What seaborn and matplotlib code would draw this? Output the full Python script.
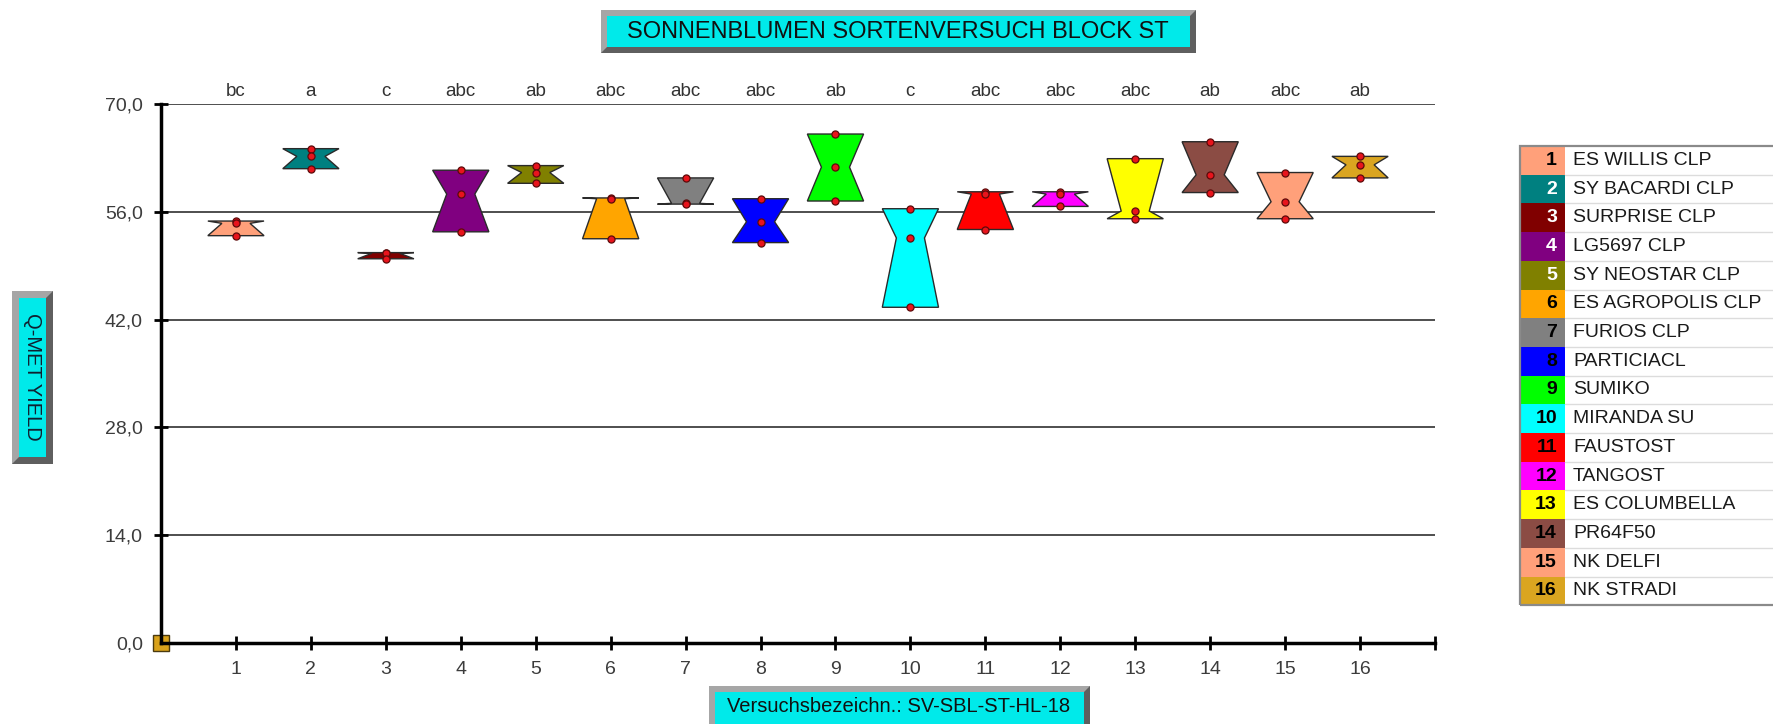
import numpy as np
import pandas as pd
import matplotlib
matplotlib.use("Agg")
import matplotlib.pyplot as plt
from matplotlib.patches import Polygon, Rectangle
from matplotlib.lines import Line2D
import seaborn as sns

# =============================
# DATA
# =============================
sorte_nr = [1, 2, 3, 4, 5, 6, 7, 8, 9, 10, 11, 12, 13, 14, 15, 16]
sorte_name = ["ES WILLIS CLP", "SY BACARDI CLP", "SURPRISE CLP", "LG5697 CLP",
              "SY NEOSTAR CLP", "ES AGROPOLIS CLP", "FURIOS CLP", "PARTICIACL",
              "SUMIKO", "MIRANDA SU", "FAUSTOST", "TANGOST", "ES COLUMBELLA",
              "PR64F50", "NK DELFI", "NK STRADI"]
letters = ["bc", "a", "c", "abc", "ab", "abc", "abc", "abc",
           "ab", "c", "abc", "abc", "abc", "ab", "abc", "ab"]

# three replicates per variety (Q-MET YIELD)
rep_a = [54.8, 64.2, 50.7, 61.4, 62.0, 57.8, 60.4, 57.7, 66.1, 56.4, 58.6, 58.6, 62.9, 65.1, 61.1, 63.2]
rep_b = [54.5, 63.2, 50.6, 58.3, 61.1, 57.7, 57.1, 54.7, 61.8, 52.6, 58.3, 58.3, 56.1, 60.8, 57.3, 62.1]
rep_c = [52.9, 61.6, 49.9, 53.4, 59.7, 52.5, 57.0, 52.0, 57.4, 43.6, 53.7, 56.7, 55.1, 58.5, 55.1, 60.4]

y_ticks = [0, 14, 28, 42, 56, 70]

# =============================
# STYLE
# =============================
box_colors = ["#ffa07a", "#008080", "#800000", "#800080", "#808000", "#ffa500",
              "#808080", "#0000ff", "#00ff00", "#00ffff", "#ff0000", "#ff00ff",
              "#ffff00", "#8b4c44", "#ffa07a", "#daa520"]
num_colors = ["black", "white", "white", "white", "white", "black", "black", "black",
              "black", "black", "black", "black", "black", "black", "black", "black"]
CYAN = "#00eaea"

W, H = 1773, 724
X_MAX = 17

sns.set_style("white")
plt.rcParams["font.family"] = ["Liberation Sans", "DejaVu Sans"]

rows = []
for i, n in enumerate(sorte_nr):
    for v in (rep_a[i], rep_b[i], rep_c[i]):
        rows.append((n, sorte_name[i], v))
df = pd.DataFrame(rows, columns=["nr", "sorte", "yield"])

# box = min..max of the replicates, waist (notch) at the median
stats = []
for n, grp in df.groupby("nr"):
    v = grp["yield"].to_numpy()
    lo, med, hi = v.min(), np.median(v), v.max()
    stats.append(dict(med=med, q1=lo, q3=hi, whislo=lo, whishi=hi,
                      cilo=lo, cihi=hi, fliers=[], mean=v.mean()))

fig = plt.figure(figsize=(W / 100, H / 100), dpi=100)
ax = fig.add_axes([161 / W, 1 - 643 / H, (1435 - 161) / W, (643 - 104) / H])


def fig_xy(x, y):
    return (x / W, 1 - y / H)


# =============================
# BOXES + POINTS
# =============================
bp = ax.bxp(stats, positions=sorte_nr, widths=0.75, shownotches=True,
            patch_artist=True, showcaps=False, showfliers=False,
            boxprops=dict(edgecolor="#2a2a2a", linewidth=1.0),
            medianprops=dict(linewidth=0), whiskerprops=dict(linewidth=0),
            manage_ticks=False, zorder=3)
for patch, c in zip(bp["boxes"], box_colors):
    patch.set_facecolor(c)

sns.scatterplot(data=df, x="nr", y="yield", color="#e8141c", edgecolor="#5c0a0a",
                linewidth=0.9, s=26, zorder=5, legend=False, ax=ax)

ax.set_xlim(0, X_MAX)
ax.set_ylim(y_ticks[0], y_ticks[-1])
ax.set_xlabel("")
ax.set_ylabel("")

ax.set_xticks(sorte_nr + [X_MAX])
ax.set_xticklabels([str(n) for n in sorte_nr] + [""])
ax.set_yticks(y_ticks)
ax.set_yticklabels([f"{t:.1f}".replace(".", ",") for t in y_ticks])

ax.tick_params(axis="both", direction="inout", length=10, width=2, color="black",
               labelcolor="#3c3c3c", labelsize=14, pad=8,
               bottom=True, left=True, top=False, right=False)

ax.set_axisbelow(True)
ax.yaxis.grid(True, color="#1e1e1e", linewidth=1.1)
ax.xaxis.grid(False)
for s in ["top", "right"]:
    ax.spines[s].set_visible(False)
for s in ["left", "bottom"]:
    ax.spines[s].set_linewidth(2.5)
    ax.spines[s].set_color("black")

# origin marker
ax.plot(ax.get_xlim()[0], ax.get_ylim()[0], marker="s", ms=11, mfc="#d9a21b",
        mec="#4a3a10", mew=1, clip_on=False, zorder=2)

# significance letters
for n, letter in zip(sorte_nr, letters):
    ax.annotate(letter, xy=(n, y_ticks[-1]), xytext=(0, 3), textcoords="offset points",
                ha="center", va="bottom", fontsize=13.5, color="#333333",
                annotation_clip=False)


# =============================
# BEVEL LABEL BOXES
# =============================
def bevel_box(x0, y0, x1, y1, b):
    fig.add_artist(Polygon([fig_xy(x0, y0), fig_xy(x1, y0), fig_xy(x1, y1), fig_xy(x0, y1)],
                           closed=True, transform=fig.transFigure,
                           facecolor="#5f5f5f", edgecolor="none"))
    fig.add_artist(Polygon([fig_xy(x0, y0), fig_xy(x1, y0), fig_xy(x1 - b, y0 + b),
                            fig_xy(x0 + b, y0 + b), fig_xy(x0 + b, y1 - b), fig_xy(x0, y1)],
                           closed=True, transform=fig.transFigure,
                           facecolor="#a6a6a6", edgecolor="none"))
    fig.add_artist(Polygon([fig_xy(x0 + b, y0 + b), fig_xy(x1 - b, y0 + b),
                            fig_xy(x1 - b, y1 - b), fig_xy(x0 + b, y1 - b)],
                           closed=True, transform=fig.transFigure,
                           facecolor=CYAN, edgecolor="none"))


bevel_box(601, 10, 1196, 53, 6)
fig.text(898 / W, 1 - 32 / H, "SONNENBLUMEN SORTENVERSUCH BLOCK ST",
         ha="center", va="center", fontsize=17, color="#111111")

bevel_box(12, 291, 53, 464, 7)
fig.text(32 / W, 1 - 377 / H, "Q-MET YIELD", rotation=270,
         ha="center", va="center", fontsize=14.5, color="#102030")

bevel_box(709, 686, 1090, 736, 6)
fig.text(899 / W, 1 - 707 / H, "Versuchsbezeichn.: SV-SBL-ST-HL-18",
         ha="center", va="center", fontsize=14.5, color="#111111")

# =============================
# LEGEND TABLE
# =============================
top, row_h = 146, 28.7
x_left, x_sw = 1520, 1565
fig.add_artist(Rectangle(fig_xy(x_left, top + 16 * row_h), (W + 10 - x_left) / W,
                         16 * row_h / H, transform=fig.transFigure,
                         facecolor="white", edgecolor="none"))
for i, (n, name) in enumerate(zip(sorte_nr, sorte_name)):
    y_top = top + i * row_h
    fig.add_artist(Rectangle(fig_xy(x_left, y_top + row_h), (x_sw - x_left) / W,
                             row_h / H, transform=fig.transFigure,
                             facecolor=box_colors[i], edgecolor="none"))
    if i > 0:
        fig.add_artist(Line2D([x_sw / W, 1], [1 - y_top / H] * 2,
                              transform=fig.transFigure, color="#dcdcdc", lw=1))
    yc = 1 - (y_top + row_h / 2) / H
    fig.text(1557 / W, yc, str(n), ha="right", va="center", fontsize=14,
             fontweight="bold", color=num_colors[i])
    fig.text(1573 / W, yc, name, ha="left", va="center", fontsize=14, color="#1a1a1a")
fig.add_artist(Rectangle(fig_xy(x_left, top + 16 * row_h), (W + 10 - x_left) / W,
                         16 * row_h / H, transform=fig.transFigure,
                         facecolor="none", edgecolor="#8a8a8a", lw=1.6))

plt.savefig("out.png", dpi=100)
